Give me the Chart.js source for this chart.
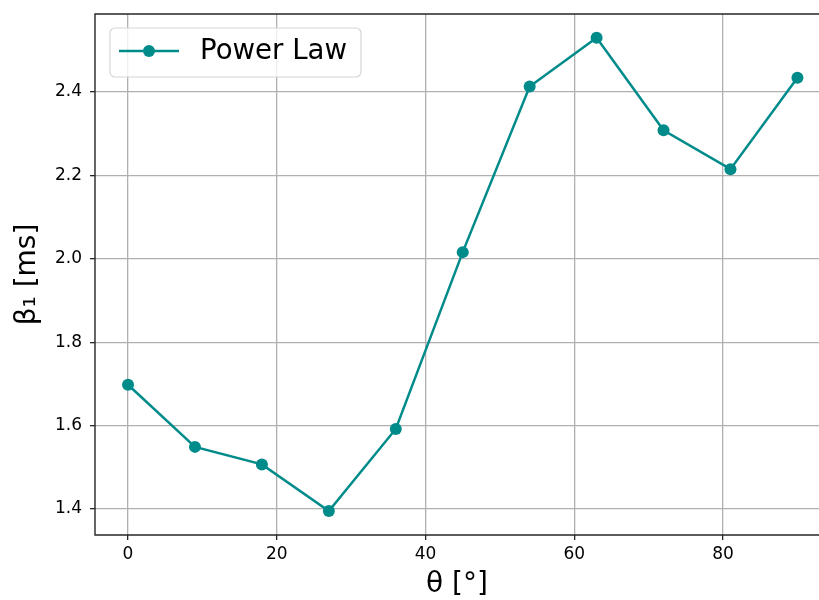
<!DOCTYPE html>
<html>
<head>
<meta charset="utf-8">
<script src="https://cdn.jsdelivr.net/npm/chart.js@4.4.1/dist/chart.umd.min.js"></script>
<style>
  html, body { margin: 0; padding: 0; background: #fff; overflow: hidden; }
  #wrap { width: 819px; height: 600px; position: relative; }
</style>
</head>
<body>
<div id="wrap"><canvas id="chart"></canvas></div>
<script>
// ─── Data ───────────────────────────────────────────────────────────────────
const THETA = [0, 9, 18, 27, 36, 45, 54, 63, 72, 81, 90];
const BETA1 = [1.698, 1.549, 1.507, 1.395, 1.592, 2.016, 2.413, 2.530, 2.308, 2.215, 2.434];
const X_TICKS = [0, 20, 40, 60, 80];
const Y_TICKS = [1.4, 1.6, 1.8, 2.0, 2.2, 2.4];
const SERIES_LABEL = 'Power Law';
const X_TITLE = 'θ [°]';
const Y_TITLE = 'β₁ [ms]';

const TEAL = '#008b8b';
const FONT = 'DejaVu Sans';

// ─── Spines (left, top, bottom — right edge is cropped in the original) ─────
const spinesPlugin = {
  id: 'spines',
  afterDatasetsDraw: function(chart) {
    const a = chart.chartArea;
    const ctx = chart.ctx;
    ctx.save();
    ctx.strokeStyle = '#262626';
    ctx.lineWidth = 1.4;
    ctx.beginPath();
    ctx.moveTo(a.right + 1, a.top);
    ctx.lineTo(a.left, a.top);
    ctx.lineTo(a.left, a.bottom);
    ctx.lineTo(a.right + 1, a.bottom);
    ctx.stroke();
    ctx.restore();
  }
};

// ─── Legend box drawn inside the plot, matplotlib style ─────────────────────
const legendBoxPlugin = {
  id: 'legendBox',
  afterDraw: function(chart) {
    const ctx = chart.ctx;
    const ds = chart.data.datasets[0];
    const x = 110, y = 28, w = 251, h = 49, r = 5;
    ctx.save();
    ctx.beginPath();
    ctx.roundRect(x, y, w, h, r);
    ctx.fillStyle = 'rgba(255,255,255,0.8)';
    ctx.fill();
    ctx.strokeStyle = '#d6d6d6';
    ctx.lineWidth = 1.2;
    ctx.stroke();

    const cy = y + 23;
    ctx.strokeStyle = ds.borderColor;
    ctx.lineWidth = ds.borderWidth;
    ctx.beginPath();
    ctx.moveTo(119, cy);
    ctx.lineTo(179, cy);
    ctx.stroke();
    ctx.beginPath();
    ctx.arc(149, cy, ds.pointRadius, 0, Math.PI * 2);
    ctx.fillStyle = ds.pointBackgroundColor;
    ctx.fill();

    ctx.fillStyle = '#000';
    ctx.font = '27.6px ' + FONT;
    ctx.textBaseline = 'middle';
    ctx.textAlign = 'left';
    ctx.fillText(ds.label, 200, cy + 1);
    ctx.restore();
  }
};

const points = THETA.map(function(t, i) { return { x: t, y: BETA1[i] }; });

new Chart(document.getElementById('chart'), {
  type: 'line',
  plugins: [spinesPlugin, legendBoxPlugin],
  data: {
    datasets: [{
      label: SERIES_LABEL,
      data: points,
      borderColor: TEAL,
      backgroundColor: TEAL,
      pointBackgroundColor: TEAL,
      pointBorderColor: TEAL,
      borderWidth: 2.5,
      pointRadius: 6,
      pointBorderWidth: 0,
      tension: 0,
      fill: false,
      clip: false
    }]
  },
  options: {
    responsive: true,
    maintainAspectRatio: false,
    animation: false,
    devicePixelRatio: 1,
    layout: { autoPadding: false, padding: { top: 14, right: 0, bottom: 0, left: 0 } },
    plugins: {
      legend: { display: false },
      tooltip: { enabled: false }
    },
    scales: {
      x: {
        type: 'linear',
        min: -4.44,
        max: 92.9,
        afterFit: function(s) {
          s.height = 65;
          s.paddingLeft = 0; s.paddingRight = 0;
        },
        afterBuildTicks: function(s) { s.ticks = X_TICKS.map(function(v) { return { value: v }; }); },
        border: { display: false },
        grid: { color: '#b0b0b0', lineWidth: 1.3, tickLength: 5, tickColor: '#262626', tickWidth: 1.3 },
        ticks: {
          padding: 4,
          maxRotation: 0,
          autoSkip: false,
          color: '#000',
          font: { family: FONT, size: 17 },
          callback: function(v) { return String(v); }
        },
        title: {
          display: true,
          text: X_TITLE,
          color: '#000',
          font: { family: FONT, size: 28, lineHeight: 1 },
          padding: { top: 0, bottom: 1 }
        }
      },
      y: {
        type: 'linear',
        min: 1.3377,
        max: 2.587,
        afterFit: function(s) {
          s.width = 95;
          s.paddingTop = 0; s.paddingBottom = 0;
        },
        afterBuildTicks: function(s) { s.ticks = Y_TICKS.map(function(v) { return { value: v }; }); },
        border: { display: false },
        grid: { color: '#b0b0b0', lineWidth: 1.3, tickLength: 5, tickColor: '#262626', tickWidth: 1.3 },
        ticks: {
          padding: 8,
          color: '#000',
          font: { family: FONT, size: 17 },
          callback: function(v) { return v.toFixed(1); }
        },
        title: {
          display: true,
          text: Y_TITLE,
          color: '#000',
          font: { family: FONT, size: 28, lineHeight: 1 },
          padding: { top: 14, bottom: 0 }
        }
      }
    }
  }
});
</script>
</body>
</html>
